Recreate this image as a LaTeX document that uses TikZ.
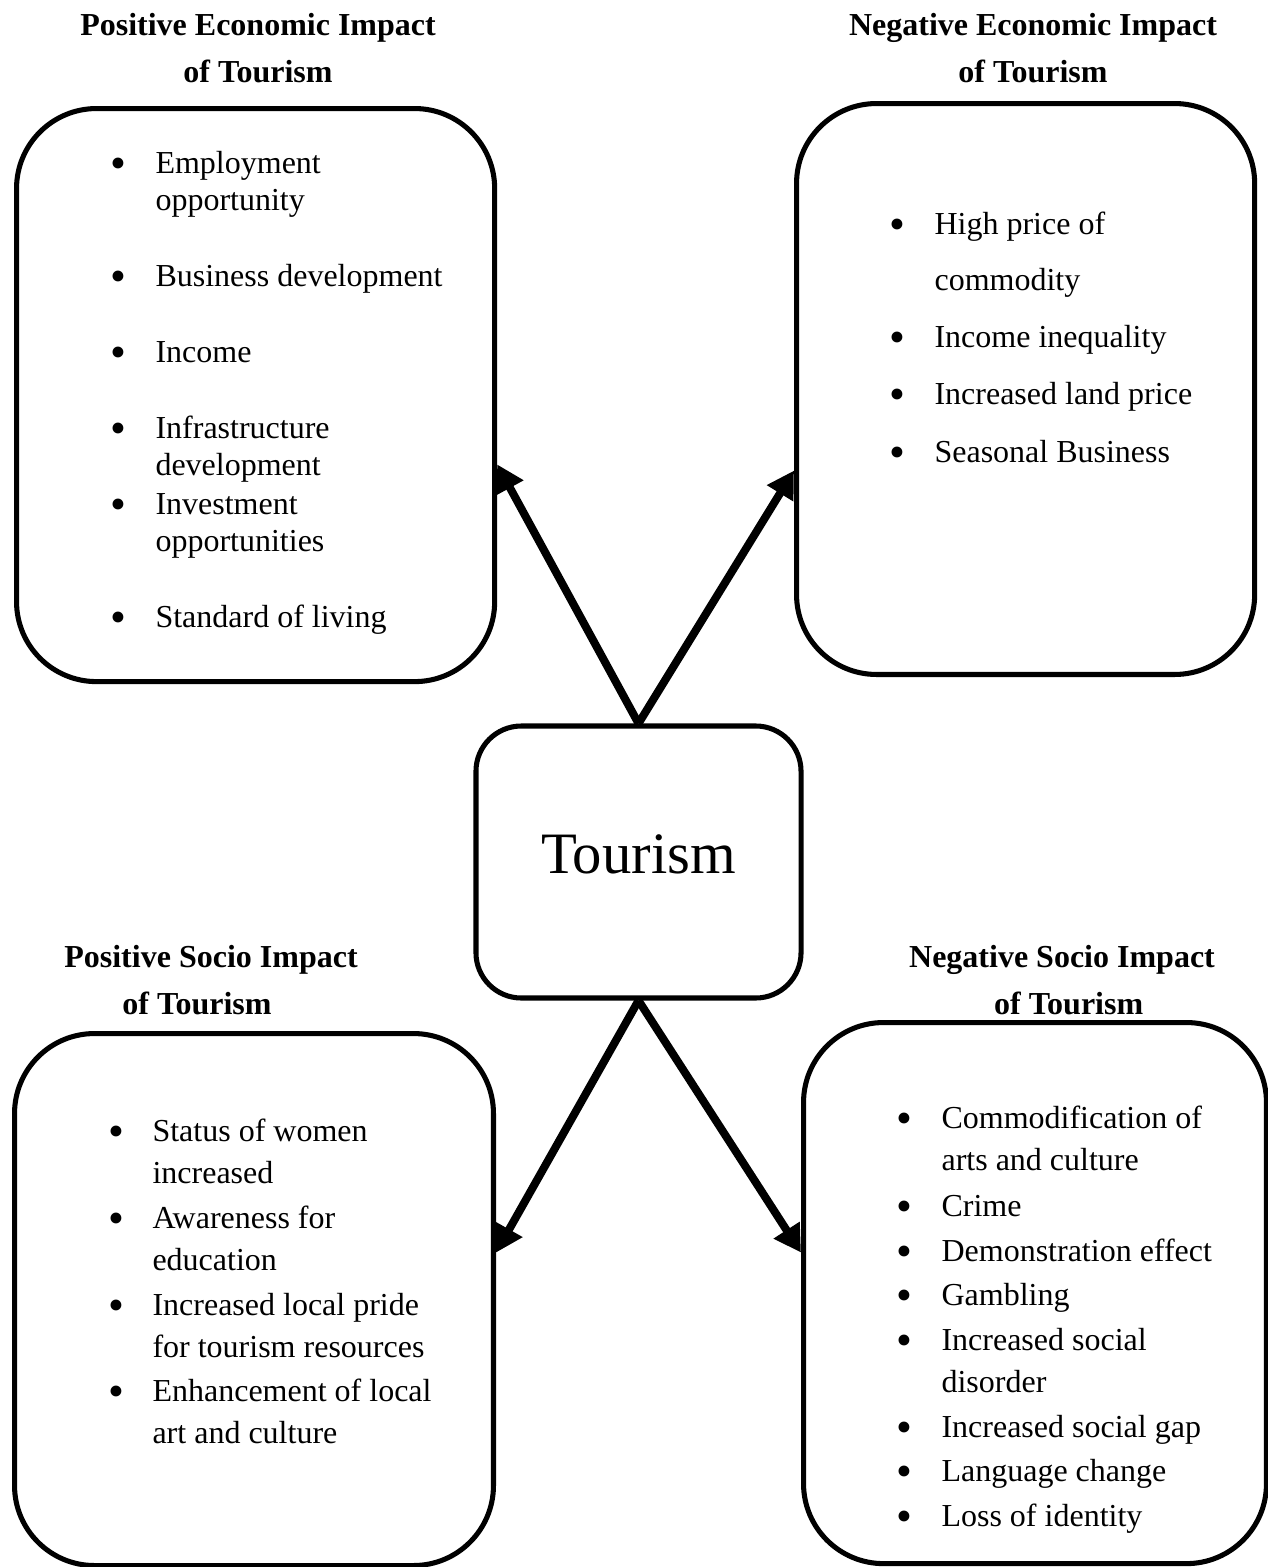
\documentclass[tikz,border=0pt]{standalone}
\usepackage{fontspec}
\setmainfont{Liberation Serif}
\usetikzlibrary{arrows.meta, positioning}
\newcommand{\itemlines}[1]{\begin{tabular}[t]{@{}l@{}}#1\end{tabular}}

\begin{document}
\begin{tikzpicture}[x=0.375pt, y=-0.375pt,
    impactbox/.style={
        draw,
        line width=1.9pt,
        rounded corners=30pt,
        anchor=north west,
        inner sep=0pt
    },
    hubbox/.style={
        draw,
        line width=1.9pt,
        rounded corners=17pt,
        minimum width=121.9pt,
        minimum height=102pt,
        font=\fontsize{22}{26}\selectfont,
        text depth=6pt
    },
    titletext/.style={
        font=\fontsize{12}{17.6}\selectfont\bfseries,
        align=center,
        anchor=base,
        inner sep=0pt
    },
    bullettext/.style={
        font=\fontsize{17}{18}\selectfont,
        anchor=base,
        inner sep=0pt,
        yshift=-2pt
    },
    itemtext/.style={
        font=\fontsize{12}{#1}\selectfont,
        anchor=base west,
        inner sep=0pt
    },
    impactarrow/.style={
        line width=3pt,
        -{Triangle[length=10pt, width=11pt]}
    }
]
\useasboundingbox (0,0) rectangle (1268,1567);

% Four impact boxes and the hub
\node[impactbox, minimum width=179.3pt, minimum height=214.9pt] (posEcon) at (14,106) {};
\node[impactbox, minimum width=171.8pt, minimum height=214.1pt] (negEcon) at (794,101) {};
\node[impactbox, minimum width=179.6pt, minimum height=199.5pt] (posSocio) at (12,1031) {};
\node[impactbox, minimum width=173.6pt, minimum height=202.9pt] (negSocio) at (801,1020) {};
\node[hubbox] (hub) at (638.5,862) {Tourism};

% Titles (base = last line)
\node[titletext] (posEconTitle) at (258,82) {Positive Economic Impact\\of Tourism};
\node[titletext] (negEconTitle) at (1033,82) {Negative Economic Impact\\of Tourism};
\node[titletext] (posSocioTitle) at (211,1014) {Positive Socio Impact\\of Tourism\hspace*{10.5pt}};
\node[titletext] (negSocioTitle) at (1062,1014) {Negative Socio Impact\\\hspace*{5pt}of Tourism};

% Arrows from the hub
\draw[impactarrow] (hub.north) -- ([yshift=-26pt]posEcon.east);
\draw[impactarrow] (hub.north) -- ([yshift=-30.6pt]negEcon.west);
\draw[impactarrow] (hub.south) -- ([yshift=17.6pt]posSocio.east);
\draw[impactarrow] (hub.south) -- ([yshift=15.2pt]negSocio.west);

% Positive economic items
\foreach \y/\txt [count=\i] in {173/{Employment\\opportunity}, 286/{Business development}, 362/{Income},
    438/{Infrastructure\\development}, 514/{Investment\\opportunities}, 627/{Standard of living}}{
    \node[bullettext] (peB\i) at (118,\y) {\textbullet};
    \node[itemtext=13.9pt] (peI\i) at (155,\y) {\itemlines{\txt}};
}

% Negative economic items
\foreach \y/\txt [count=\i] in {234/{High price of\\commodity}, 347/{Income inequality},
    404/{Increased land price}, 462/{Seasonal Business}}{
    \node[bullettext] (neB\i) at (897,\y) {\textbullet};
    \node[itemtext=21pt] (neI\i) at (934,\y) {\itemlines{\txt}};
}

% Positive socio items
\foreach \y/\txt [count=\i] in {1141/{Status of women\\increased}, 1228/{Awareness for\\education},
    1315/{Increased local pride\\for tourism resources}, 1401/{Enhancement of local\\art and culture}}{
    \node[bullettext] (psB\i) at (116,\y) {\textbullet};
    \node[itemtext=15.75pt] (psI\i) at (152,\y) {\itemlines{\txt}};
}

% Negative socio items
\foreach \y/\txt [count=\i] in {1128/{Commodification of\\arts and culture}, 1216/{Crime},
    1261/{Demonstration effect}, 1305/{Gambling}, 1350/{Increased social\\disorder},
    1437/{Increased social gap}, 1481/{Language change}, 1526/{Loss of identity}}{
    \node[bullettext] (nsB\i) at (904,\y) {\textbullet};
    \node[itemtext=15.9pt] (nsI\i) at (941,\y) {\itemlines{\txt}};
}

\end{tikzpicture}
\end{document}
